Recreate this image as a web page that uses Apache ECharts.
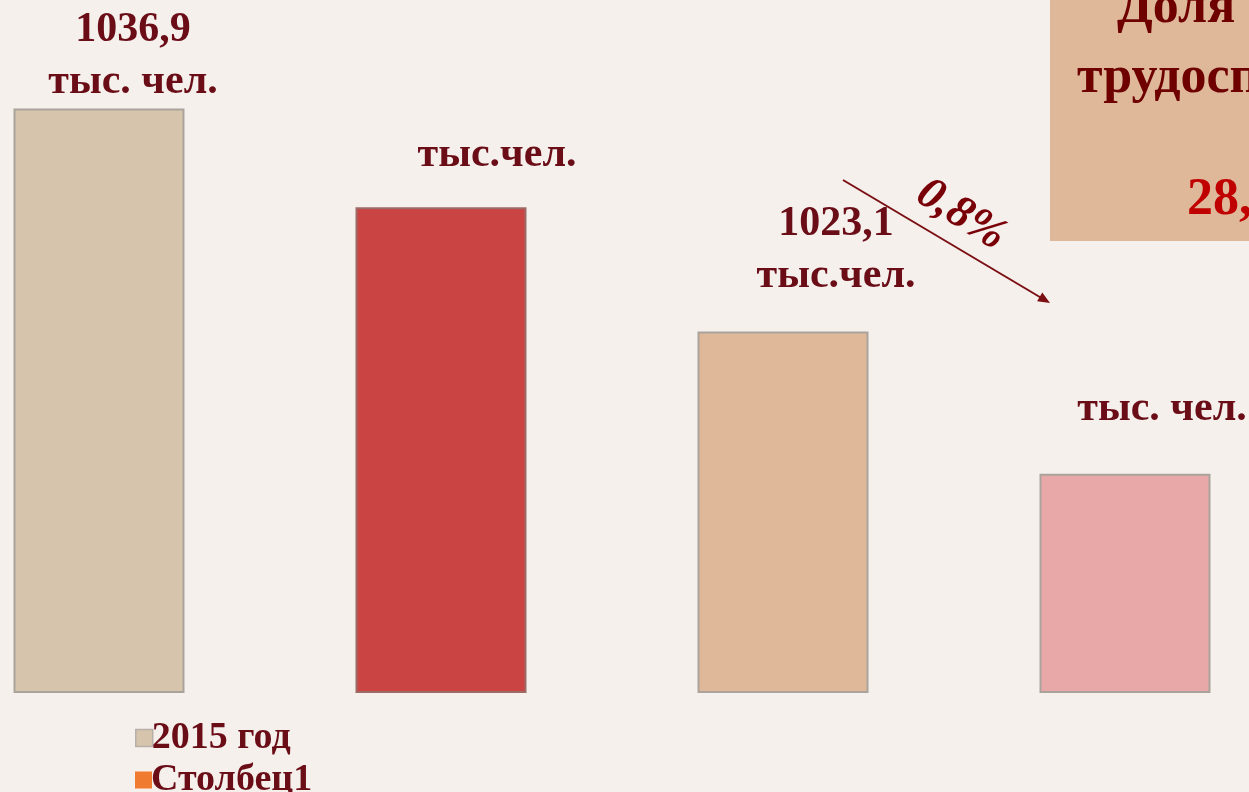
<!DOCTYPE html>
<html><head><meta charset="utf-8">
<script src="https://cdn.jsdelivr.net/npm/echarts@6/dist/echarts.min.js"></script>
<style>html,body{margin:0;padding:0;background:#F5F0EC;overflow:hidden;width:1249px;height:792px;position:relative;}
#c{position:absolute;left:-72px;top:0;width:1368px;height:792px;}</style>
</head><body><div id="c"></div>
<script>
const categories = ['2015 год', '2016 год', '2017 год', '2018 год'];
const values = [1036.9, 1030.8, 1023.1, 1014.3];
const valueLabels = ['1036,9', '', '1023,1', ''];
const unitLabels = ['тыс. чел.', 'тыс.чел.', 'тыс.чел.', 'тыс. чел.'];
const barColors = ['#D6C4AC', '#C94442', '#DFB799', '#E8A8A8'];
const borderColors = ['#A9A39C', '#9E6A66', '#A9A39C', '#A9A39C'];
const labelOffsets = [[34, 0], [56, -26], [53, -29], [37, -39]];
const legendNames = ['2015 год', 'Столбец1'];
const legendColors = ['#D6C4AC', '#F07A30'];
const changeText = '0,8%';
const boxLines = ['Доля', 'трудоспособного', '28,5%'];

const serif = '"Liberation Serif","Times New Roman",serif';
const dark = '#6A0D17';
const X0 = 72; // page-to-canvas x shift

const series = categories.map((name, i) => ({
  name: name,
  type: 'bar',
  barWidth: '50%',
  barGap: '-100%',
  itemStyle: { color: barColors[i], borderColor: borderColors[i], borderWidth: 2 },
  label: {
    show: true, position: 'top', distance: 0, offset: labelOffsets[i],
    formatter: () => valueLabels[i] ? '{n|' + valueLabels[i] + '}\n{u|' + unitLabels[i] + '}' : '{u|' + unitLabels[i] + '}',
    rich: {
      n: { fontFamily: serif, fontWeight: 'bold', fontSize: 42, lineHeight: 52, color: dark },
      u: { fontFamily: serif, fontWeight: 'bold', fontSize: 42, lineHeight: 52, color: dark }
    }
  },
  data: categories.map((c, j) => j === i ? values[i] : '-')
}));
series.push({ name: 'Столбец1', type: 'bar', barWidth: '50%', barGap: '-100%', itemStyle: { color: legendColors[1] }, data: [] });

const legendText = { fontFamily: serif, fontWeight: 'bold', fontSize: 38, color: dark, padding: [0, 0, 0, -6] };

const chart = echarts.init(document.getElementById('c'));
chart.setOption({
  backgroundColor: '#F5F0EC',
  animation: false,
  grid: { left: 0, right: 0, top: 58.5, bottom: 100, containLabel: false },
  xAxis: { type: 'category', data: categories, show: false },
  yAxis: { type: 'value', min: 1000.8, max: 1040, show: false },
  legend: [
    { data: [legendNames[0]], icon: 'rect', left: 130 + X0, top: 714, itemWidth: 17, itemHeight: 17, textStyle: legendText,
      itemStyle: { borderColor: '#B8B0A8', borderWidth: 1.5 } },
    { data: [legendNames[1]], icon: 'rect', left: 130 + X0, top: 756, itemWidth: 17, itemHeight: 17, textStyle: legendText }
  ],
  series: series,
  graphic: [
    { type: 'rect', shape: { x: 1050 + X0, y: -10, width: 300, height: 251 }, style: { fill: '#DFB899' }, z: 10 },
    { type: 'text', x: 1117 + X0, y: -17, style: { text: boxLines[0], font: 'bold 52px ' + serif, fill: '#6E0000' }, z: 11 },
    { type: 'text', x: 1077 + X0, y: 53, style: { text: boxLines[1], font: 'bold 52px ' + serif, fill: '#6E0000' }, z: 11 },
    { type: 'text', x: 1187 + X0, y: 175, style: { text: boxLines[2], font: 'bold 52px ' + serif, fill: '#C00000' }, z: 11 },
    { type: 'line', shape: { x1: 843 + X0, y1: 180, x2: 1044 + X0, y2: 299.5 }, style: { stroke: '#7B0E12', lineWidth: 2 }, z: 11 },
    { type: 'polygon', shape: { points: [[1050 + X0, 303], [1037.1 + X0, 301.2], [1042.3 + X0, 292.6]] }, style: { fill: '#7B0E12' }, z: 11 },
    { type: 'text', x: 961 + X0, y: 215, rotation: -0.56,
      style: { text: changeText, font: 'italic bold 46px ' + serif, fill: '#7A0008', align: 'center', verticalAlign: 'middle' }, z: 11 }
  ]
});
</script></body></html>
